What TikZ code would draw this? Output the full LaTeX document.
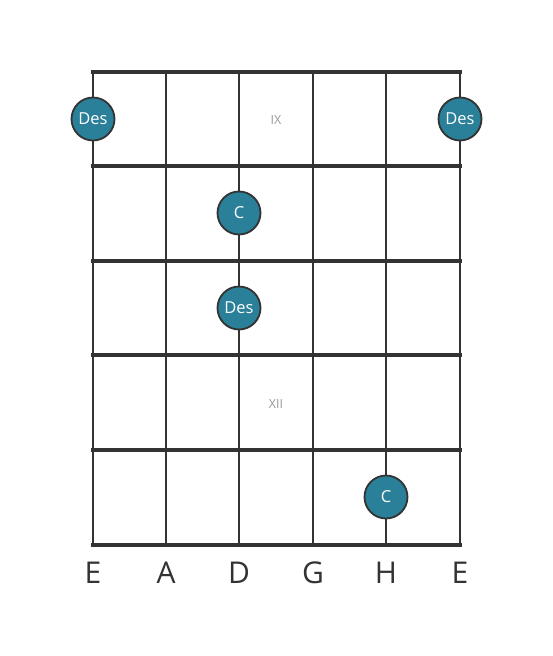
\documentclass[tikz,border=0pt]{standalone}
\usepackage{fontspec}
\setmainfont{Open Sans}
\definecolor{linec}{HTML}{333333}
\definecolor{notec}{HTML}{2A7F99}
\definecolor{fretno}{HTML}{999999}
\begin{document}
\begin{tikzpicture}[x=1pt,y=-1pt,
  stringline/.style={draw=linec,line width=2.6pt},
  fretline/.style={draw=linec,line width=4.8pt},
  note/.style={circle,fill=notec,draw=linec,line width=1.8pt,minimum size=43pt,inner sep=0pt,text=white,font=\fontsize{16.5}{16.5}\selectfont},
  fretlabel/.style={text=fretno,font=\fontsize{12.5}{12.5}\selectfont},
  strlabel/.style={text=linec,font=\fontsize{30}{30}\selectfont}]
\useasboundingbox (0,0) rectangle (553,656);
\foreach \x in {93,166,239,313,386,460} \draw[stringline] (\x,72) -- (\x,545);
\foreach \y in {72,166,261,355,450,545} \draw[fretline] (91,\y) -- (462,\y);
\node[fretlabel] (f9) at (276,120) {IX};
\node[fretlabel] (f12) at (276,404) {XII};
\node[note] (n1) at (93,119) {Des};
\node[note] (n2) at (460,119) {Des};
\node[note] (n3) at (239,213) {C};
\node[note] (n4) at (239,308) {Des};
\node[note] (n5) at (386,497) {C};
\node[strlabel] (s1) at (93,573) {E};
\node[strlabel] (s2) at (166,573) {A};
\node[strlabel] (s3) at (239,573) {D};
\node[strlabel] (s4) at (313,573) {G};
\node[strlabel] (s5) at (386,573) {H};
\node[strlabel] (s6) at (460,573) {E};
\end{tikzpicture}
\end{document}
